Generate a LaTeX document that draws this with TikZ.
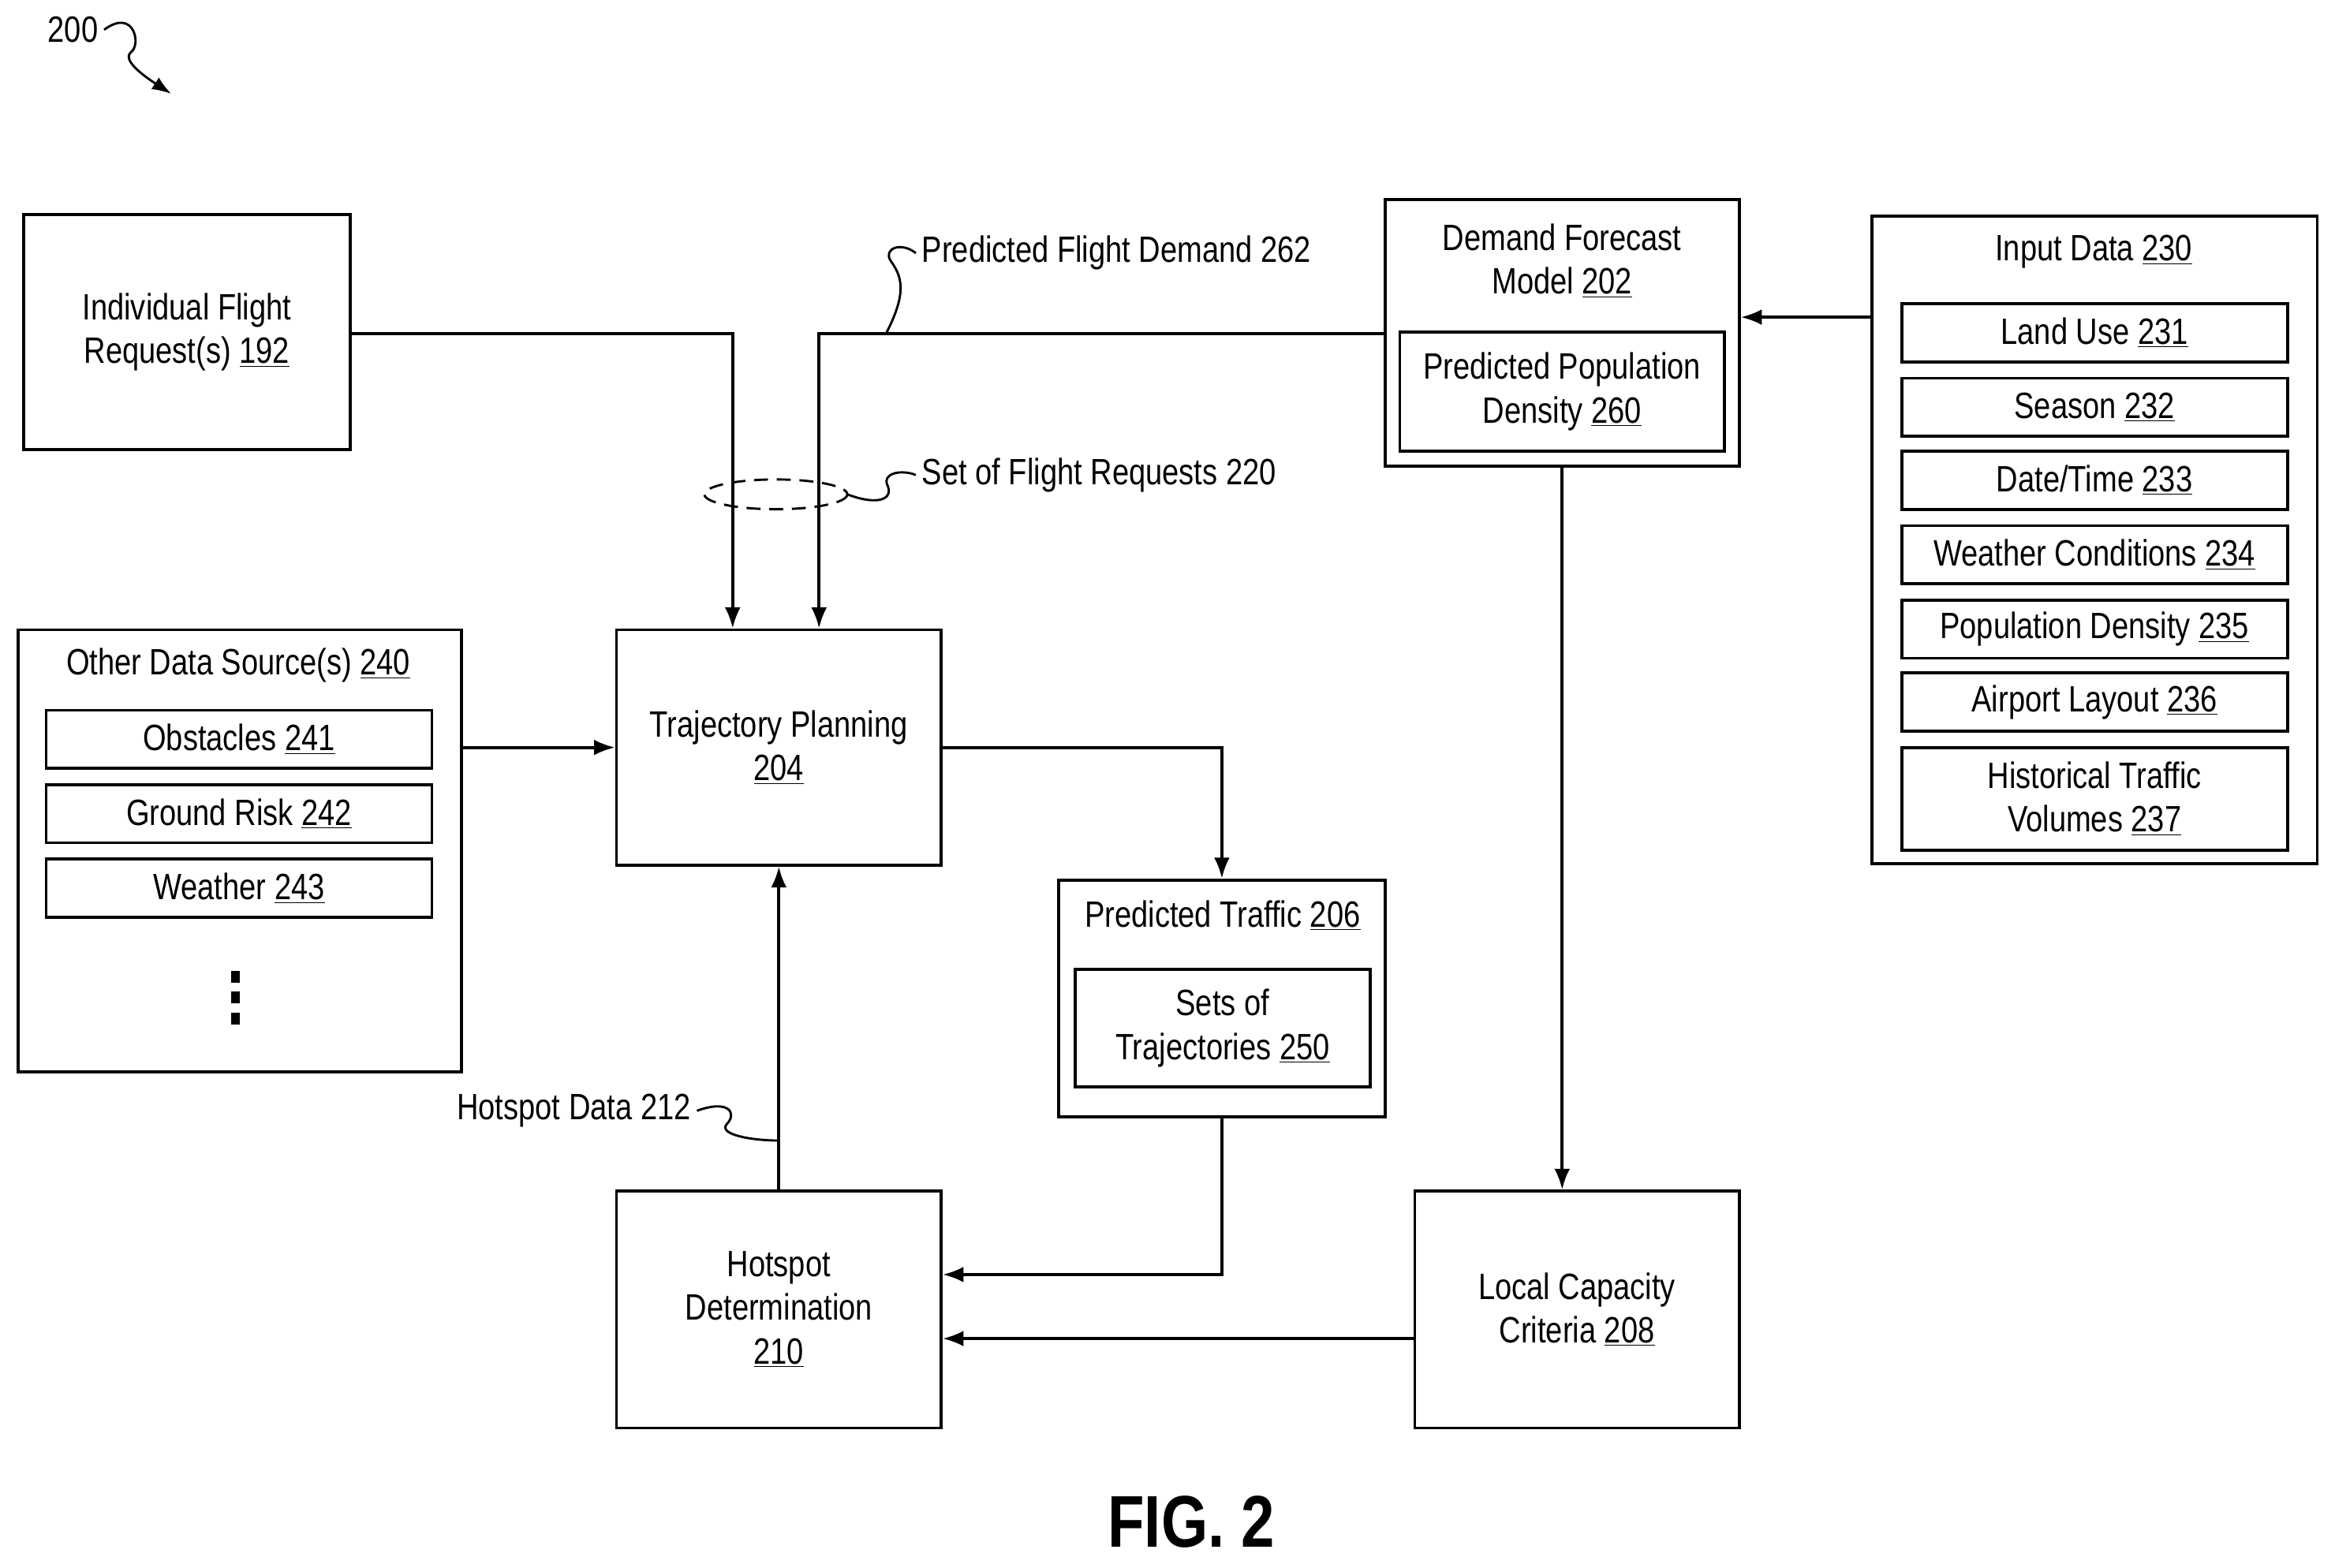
\documentclass[tikz,border=0pt]{standalone}
\usepackage{fontspec}
\setmainfont[FakeStretch=0.82]{Liberation Sans}
\usetikzlibrary{arrows.meta,positioning,fit}
\newcommand{\un}[1]{\underline{#1}}
\begin{document}
\begin{tikzpicture}[x=0.03cm, y=-0.03cm,
        font=\fontsize{21}{25}\selectfont,
        box/.style={draw, line width=1.7pt, inner sep=0pt},
        lbl/.style={align=center, inner sep=0pt},
        arrow/.style={-{Latex[length=12pt,width=9pt]}, line width=1.7pt},
        squig/.style={line width=1.3pt}
        ]
        \useasboundingbox (0,0) rectangle (1568,1053);

        % --- Figure number ---
        \node[anchor=west] (num) at (28,20) {200};
        \coordinate (numtip) at (115,63);
        \draw[-{Latex[length=11pt,width=8pt]}, squig] (num.east) .. controls (90,5) and (95,30) .. (88,35) .. controls (82,40) and (95,50) .. (numtip);

        % --- Left: requests and other data ---
        \node[box, fit={(16,144)(235,302)}] (request) {};
        \node[lbl] at (request.center) {Individual Flight\\Request(s) \un{192}};
        \node[box, fit={(12,423)(310,720)}] (other) {};
        \node[lbl] (otherlbl) at (160,447) {Other Data Source(s) \un{240}};
        \node[box, fit={(31,477)(290,516)}] (obst) {};
        \node[lbl] at (obst.center) {Obstacles \un{241}};
        \node[box, fit={(31,527)(290,566)}] (risk) {};
        \node[lbl] at (risk.center) {Ground Risk \un{242}};
        \node[box, fit={(31,577)(290,616)}] (weather) {};
        \node[lbl] at (weather.center) {Weather \un{243}};
        \foreach \y in {656,670,684}
            \fill (155,\y-4) rectangle (161,\y+4);

        % --- Middle ---
        \node[box, fit={(414,423)(632,581)}] (traj) {};
        \node[lbl] at (traj.center) {Trajectory Planning\\\un{204}};
        \node[box, fit={(711,591)(930,750)}] (traffic) {};
        \node[lbl] (trafficlbl) at (821,615) {Predicted Traffic \un{206}};
        \node[box, fit={(722,651)(920,730)}] (sets) {};
        \node[lbl] at (sets.center) {Sets of\\Trajectories \un{250}};
        \node[box, fit={(414,800)(632,959)}] (hotspot) {};
        \node[lbl] at (hotspot.center) {Hotspot\\Determination\\\un{210}};
        \node[box, fit={(950,800)(1168,959)}] (capacity) {};
        \node[lbl] at (capacity.center) {Local Capacity\\Criteria \un{208}};

        % --- Right: forecast and input data ---
        \node[box, fit={(930,134)(1168,313)}] (forecast) {};
        \node[lbl] (forecastlbl) at (1049,175) {Demand Forecast\\Model \un{202}};
        \node[box, fit={(940,223)(1158,303)}] (density) {};
        \node[lbl] at (density.center) {Predicted Population\\Density \un{260}};
        \node[box, fit={(1257,145)(1556,580)}] (input) {};
        \node[lbl] (inputlbl) at (1406,169) {Input Data \un{230}};
        \node[box, fit={(1277,204)(1536,243)}] (land) {};
        \node[lbl] at (land.center) {Land Use \un{231}};
        \node[box, fit={(1277,254)(1536,293)}] (season) {};
        \node[lbl] at (season.center) {Season \un{232}};
        \node[box, fit={(1277,303)(1536,342)}] (date) {};
        \node[lbl] at (date.center) {Date/Time \un{233}};
        \node[box, fit={(1277,353)(1536,392)}] (cond) {};
        \node[lbl] at (cond.center) {Weather Conditions \un{234}};
        \node[box, fit={(1277,403)(1536,442)}] (pop) {};
        \node[lbl] at (pop.center) {Population Density \un{235}};
        \node[box, fit={(1277,452)(1536,491)}] (airport) {};
        \node[lbl] at (airport.center) {Airport Layout \un{236}};
        \node[box, fit={(1277,502)(1536,571)}] (hist) {};
        \node[lbl] at (hist.center) {Historical Traffic\\Volumes \un{237}};

        % --- Arrows ---
        \draw[arrow] (request.east |- 0,224) -| (traj.north -| 492,0);
        \draw[arrow] (forecast.west |- 0,224) -| (traj.north -| 550,0);
        \draw[arrow] (other.east |- 0,502) -- (traj.west |- 0,502);
        \draw[arrow] (input.west |- 0,213) -- (forecast.east |- 0,213);
        \draw[arrow] (forecast.south -| 1049,0) -- (capacity.north -| 1049,0);
        \draw[arrow] (traj.east |- 0,502) -| (traffic.north);
        \draw[arrow] (traffic.south) |- (hotspot.east |- 0,856);
        \draw[arrow] (capacity.west |- 0,899) -- (hotspot.east |- 0,899);
        \draw[arrow] (hotspot.north) -- (traj.south);

        % --- Labels ---
        \draw[dash pattern=on 8pt off 5pt, line width=1.3pt] (521,332) ellipse [x radius=48, y radius=10];
        \node[anchor=west] (demandlbl) at (615,170) {Predicted Flight Demand 262};
        \draw[squig] (595,224) .. controls (610,195) and (605,185) .. (598,175) .. controls (593,167) and (605,162) .. (demandlbl.west);
        \node[anchor=west] (setlbl) at (615,319) {Set of Flight Requests 220};
        \draw[squig] (569,332) .. controls (590,340) and (600,335) .. (596,326) .. controls (592,318) and (605,315) .. (setlbl.west);
        \node[anchor=east] (hotlbl) at (468,746) {Hotspot Data 212};
        \draw[squig] (hotlbl.east) .. controls (490,738) and (495,748) .. (488,755) .. controls (482,762) and (505,766) .. (523,766);

        \node[font=\fontsize{42}{42}\selectfont\bfseries] (fig) at (800,1022) {FIG. 2};
\end{tikzpicture}
\end{document}
